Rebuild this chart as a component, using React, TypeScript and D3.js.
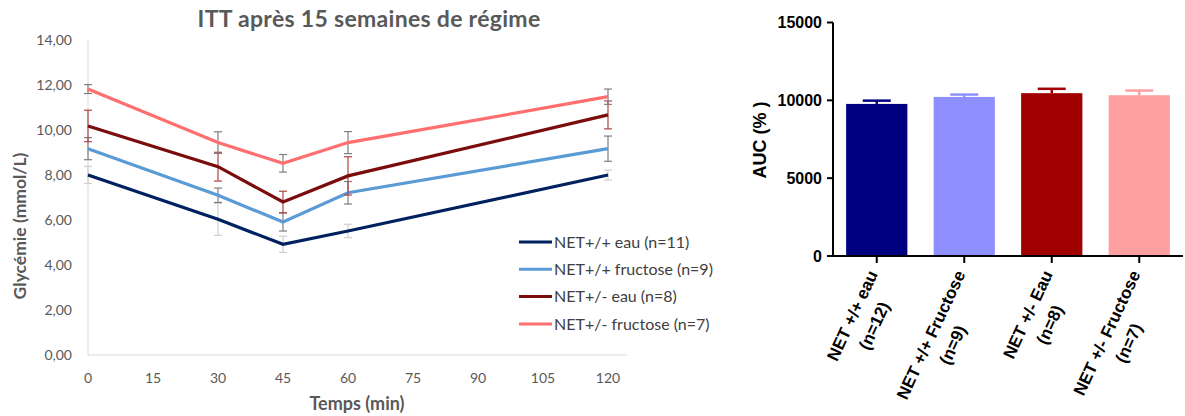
import { useEffect, useRef } from "react";
import * as d3 from "d3";

// ITT curve (glycémie, mmol/L)
const times = [0, 30, 45, 60, 120];
const xTicks = [0, 15, 30, 45, 60, 75, 90, 105, 120];
const yTicks = [0, 2, 4, 6, 8, 10, 12, 14];
const seriesNames = [
    "NET+/+ eau (n=11)",
    "NET+/+ fructose (n=9)",
    "NET+/- eau (n=8)",
    "NET+/- fructose (n=7)",
];
const eauWT = [8.0, 6.03, 4.92, 5.51, 8.0];
const fructoseWT = [9.17, 7.1, 5.91, 7.21, 9.17];
const eauHet = [10.18, 8.37, 6.8, 7.96, 10.67];
const fructoseHet = [11.82, 9.44, 8.52, 9.44, 11.48];
const eauWTErr = [0.38, 0.71, 0.36, 0.3, 0.22];
const fructoseWTErr = [0.49, 0.32, 0.4, 0.5, 0.56];
const eauHetErr = [0.7, 0.64, 0.48, 0.85, 0.62];
const fructoseHetErr = [0.2, 0.48, 0.39, 0.49, 0.34];
const lineColors = ["#002060", "#5b9bd5", "#7b0c0c", "#ff6f6f"];
const errColors = ["#cfcfcf", "#7f7f7f", "#b04444", "#7f7f7f"];

// AUC bars
const aucLabels = [
    ["NET +/+ eau", "(n=12)"],
    ["NET +/+ Fructose", "(n=9)"],
    ["NET +/- Eau", "(n=8)"],
    ["NET +/- Fructose", "(n=7)"],
];
const aucValues = [9770, 10220, 10460, 10330];
const aucSem = [210, 150, 280, 300];
const barColors = ["#000080", "#8f8fff", "#a00000", "#ffa0a0"];
const aucTicks = [0, 5000, 10000, 15000];

const excelFont = "Lato, 'Open Sans', sans-serif";
const prismFont = "'Liberation Sans', Arial, sans-serif";

function drawItt(svg: d3.Selection<SVGSVGElement, unknown, null, undefined>) {
    const x = d3.scaleLinear().domain([0, 120]).range([88, 608]);
    const y = d3.scaleLinear().domain([0, 14]).range([355, 40]);
    const g = svg.append("g");

    g.append("text")
        .attr("x", 369)
        .attr("y", 27)
        .attr("text-anchor", "middle")
        .attr("font-family", excelFont)
        .attr("font-weight", 700)
        .attr("font-size", 23)
        .attr("letter-spacing", 0.3)
        .attr("fill", "#595959")
        .text("ITT après 15 semaines de régime");

    // axis lines
    g.append("line")
        .attr("x1", x(0)).attr("x2", x(0))
        .attr("y1", y(14)).attr("y2", y(0))
        .attr("stroke", "#d9d9d9");
    g.append("line")
        .attr("x1", x(0)).attr("x2", x.range()[1] + 19)
        .attr("y1", y(0)).attr("y2", y(0))
        .attr("stroke", "#d9d9d9");

    g.append("g")
        .selectAll("text")
        .data(yTicks)
        .join("text")
        .attr("x", 72)
        .attr("y", d => y(d))
        .attr("dy", "0.35em")
        .attr("text-anchor", "end")
        .attr("font-family", excelFont)
        .attr("font-size", 14)
        .attr("fill", "#595959")
        .text(d => d3.format(".2f")(d).replace(".", ","));

    g.append("g")
        .selectAll("text")
        .data(xTicks)
        .join("text")
        .attr("x", d => x(d))
        .attr("y", 383)
        .attr("text-anchor", "middle")
        .attr("font-family", excelFont)
        .attr("font-size", 14)
        .attr("fill", "#595959")
        .text(d => d);

    g.append("text")
        .attr("x", 357)
        .attr("y", 410)
        .attr("text-anchor", "middle")
        .attr("font-family", excelFont)
        .attr("font-weight", 700)
        .attr("font-size", 18)
        .attr("fill", "#595959")
        .text("Temps (min)");

    g.append("text")
        .attr("transform", "translate(26,226) rotate(-90)")
        .attr("text-anchor", "middle")
        .attr("font-family", excelFont)
        .attr("font-weight", 700)
        .attr("font-size", 17.5)
        .attr("fill", "#595959")
        .text("Glycémie (mmol/L)");

    const values = [eauWT, fructoseWT, eauHet, fructoseHet];
    const errors = [eauWTErr, fructoseWTErr, eauHetErr, fructoseHetErr];
    const line = d3.line<number>().x((_, i) => x(times[i])).y(d => y(d));

    values.forEach((vals, s) => {
        const eg = g.append("g").attr("stroke", errColors[s]).attr("stroke-width", 1.2);
        vals.forEach((v, i) => {
            const cx = x(times[i]);
            const lo = y(v - errors[s][i]);
            const hi = y(v + errors[s][i]);
            eg.append("line").attr("x1", cx).attr("x2", cx).attr("y1", lo).attr("y2", hi);
            eg.append("line").attr("x1", cx - 4).attr("x2", cx + 4).attr("y1", lo).attr("y2", lo);
            eg.append("line").attr("x1", cx - 4).attr("x2", cx + 4).attr("y1", hi).attr("y2", hi);
        });
        g.append("path")
            .attr("d", line(vals))
            .attr("fill", "none")
            .attr("stroke", lineColors[s])
            .attr("stroke-width", 3.2);
    });

    const legend = g.append("g")
        .selectAll("g")
        .data(seriesNames)
        .join("g")
        .attr("transform", (_, i) => `translate(519,${242 + i * 27.3})`);
    legend.append("line")
        .attr("x1", 0).attr("x2", 33)
        .attr("stroke", (_, i) => lineColors[i])
        .attr("stroke-width", 3);
    legend.append("text")
        .attr("x", 35)
        .attr("dy", "0.36em")
        .attr("font-family", excelFont)
        .attr("font-size", 16)
        .attr("fill", "#404040")
        .text(d => d);
}

function drawAuc(svg: d3.Selection<SVGSVGElement, unknown, null, undefined>) {
    const x = d3.scaleBand<number>()
        .domain(d3.range(aucValues.length))
        .range([833, 1183])
        .paddingInner(0.3)
        .paddingOuter(0.15);
    const y = d3.scaleLinear().domain([0, 15000]).range([256, 22.5]);
    const g = svg.append("g");

    g.append("g")
        .selectAll("rect")
        .data(aucValues)
        .join("rect")
        .attr("x", (_, i) => x(i)!)
        .attr("width", x.bandwidth())
        .attr("y", d => y(d))
        .attr("height", d => y(0) - y(d))
        .attr("fill", (_, i) => barColors[i]);

    aucValues.forEach((v, i) => {
        const cx = x(i)! + x.bandwidth() / 2;
        const top = y(v + aucSem[i]);
        g.append("line").attr("x1", cx).attr("x2", cx).attr("y1", y(v)).attr("y2", top)
            .attr("stroke", barColors[i]).attr("stroke-width", 2.5);
        g.append("line").attr("x1", cx - 14).attr("x2", cx + 14).attr("y1", top).attr("y2", top)
            .attr("stroke", barColors[i]).attr("stroke-width", 2.5);
    });

    // axes
    g.append("line").attr("x1", 833).attr("x2", 833).attr("y1", y(15000)).attr("y2", y(0) + 1)
        .attr("stroke", "#000").attr("stroke-width", 2);
    g.append("line").attr("x1", 832).attr("x2", 1183).attr("y1", y(0)).attr("y2", y(0))
        .attr("stroke", "#000").attr("stroke-width", 2);

    g.append("g")
        .selectAll("line")
        .data(aucTicks)
        .join("line")
        .attr("x1", 827).attr("x2", 833)
        .attr("y1", d => y(d)).attr("y2", d => y(d))
        .attr("stroke", "#000").attr("stroke-width", 2);
    g.append("g")
        .selectAll("text")
        .data(aucTicks)
        .join("text")
        .attr("x", 822)
        .attr("y", d => y(d))
        .attr("dy", "0.36em")
        .attr("text-anchor", "end")
        .attr("font-family", prismFont)
        .attr("font-weight", 700)
        .attr("font-size", 16)
        .text(d => d);

    g.append("g")
        .selectAll("line")
        .data(aucValues)
        .join("line")
        .attr("x1", (_, i) => x(i)! + x.bandwidth() / 2)
        .attr("x2", (_, i) => x(i)! + x.bandwidth() / 2)
        .attr("y1", y(0)).attr("y2", y(0) + 7)
        .attr("stroke", "#000").attr("stroke-width", 2);

    g.append("text")
        .attr("transform", "translate(766,140) rotate(-90)")
        .attr("text-anchor", "middle")
        .attr("font-family", prismFont)
        .attr("font-weight", 700)
        .attr("font-size", 18)
        .text("AUC (% )");

    aucLabels.forEach((lines, i) => {
        const cx = x(i)! + x.bandwidth() / 2;
        const lab = g.append("g")
            .attr("transform", `translate(${cx + 1.5},274) rotate(-65)`)
            .attr("font-family", prismFont)
            .attr("font-weight", 700)
            .attr("font-size", 17);
        const texts = lines.map((t, k) =>
            lab.append("text").attr("y", k * 24).text(t)
        );
        const widths = texts.map(t => (t.node() as SVGTextElement).getComputedTextLength());
        const maxW = d3.max(widths)!;
        texts.forEach(t => t.attr("x", -maxW / 2).attr("text-anchor", "middle"));
    });
}

export default function App() {
    const ref = useRef<SVGSVGElement>(null);

    useEffect(() => {
        if (!ref.current) return;
        const svg = d3.select(ref.current);
        svg.selectAll("*").remove();
        drawItt(svg);
        drawAuc(svg);
    }, []);

    return (
        <svg
            ref={ref}
            width={1185}
            height={416}
            style={{ position: "absolute", left: 0, top: 0, background: "#fff" }}
        />
    );
}
